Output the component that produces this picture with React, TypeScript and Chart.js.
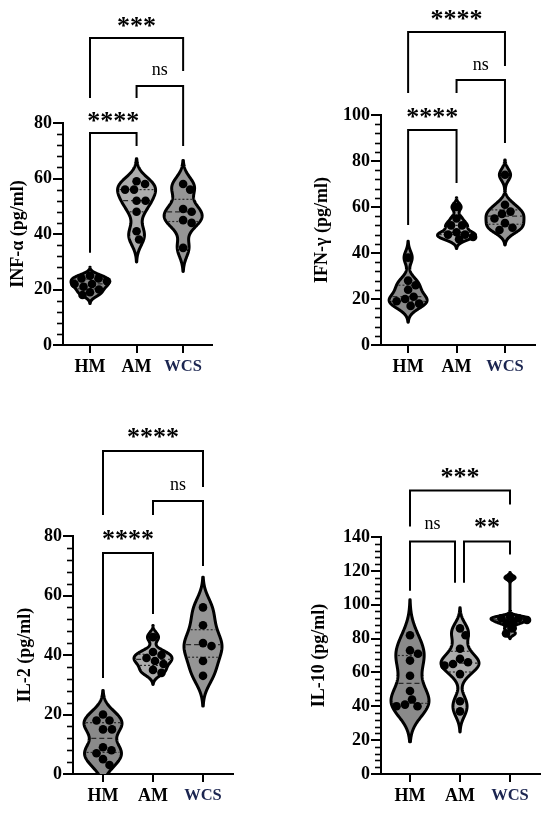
import React, { useEffect, useRef } from "react";
import { Chart, registerables } from "chart.js";

Chart.register(...registerables);

// ---------- data ----------
const categories = ["HM", "AM", "WCS"];
const groupFills = ["#8a8a8a", "#acacac", "#959595"];

// INF-α (pg/ml)
const infHM = [25, 24, 24, 23, 22, 22, 21, 20, 19, 18];
const infAM = [59, 58, 56, 56, 52, 52, 48, 41, 38];
const infWCS = [58, 56, 49, 48, 45, 44, 35];

// IFN-γ (pg/ml)
const ifnHM = [38, 28, 26, 24, 21, 20, 19, 18, 17];
const ifnAM = [60, 55, 52, 52, 49, 48, 48, 47, 46];
const ifnWCS = [74, 61, 58, 57, 55, 53, 51, 50];

// IL-2 (pg/ml)
const il2HM = [20, 18, 18, 15, 15, 9, 8, 7, 5, 3];
const il2AM = [46, 41, 40, 39, 38, 37, 35, 34];
const il2WCS = [56, 50, 44, 43, 38, 33];

// IL-10 (pg/ml)
const il10HM = [82, 73, 71, 67, 58, 49, 44, 41, 40, 40];
const il10AM = [86, 82, 74, 68, 66, 65, 64, 59, 43, 37];
const il10WCS = [116, 93, 92, 92, 91, 90, 89, 86, 83];

const yTitles = ["INF-α (pg/ml)", "IFN-γ (pg/ml)", "IL-2 (pg/ml)", "IL-10 (pg/ml)"];
const yMaxes = [80, 100, 80, 140];
const yMajorStep = 20;
const yMinorStep = 4;

// significance brackets (category indices, levels in data units)
type Bracket = {
  from: number; to: number; level: number;
  endFrom: number; endTo: number; label: string; labelAt: number;
};
const infBrackets: Bracket[] = [
  { from: 0, to: 2, level: 110.6, endFrom: 89, endTo: 98.7, label: "***", labelAt: 116.4 },
  { from: 1, to: 2, level: 93.3, endFrom: 89, endTo: 71.7, label: "ns", labelAt: 99 },
  { from: 0, to: 1, level: 76.4, endFrom: 33.2, endTo: 71.7, label: "****", labelAt: 82.2 },
];
const ifnBrackets: Bracket[] = [
  { from: 0, to: 2, level: 136.1, endFrom: 109.6, endTo: 121.3, label: "****", labelAt: 143.5 },
  { from: 1, to: 2, level: 115.2, endFrom: 109.6, endTo: 87.8, label: "ns", labelAt: 121.7 },
  { from: 0, to: 1, level: 93.5, endFrom: 52.2, endTo: 70.4, label: "****", labelAt: 100.9 },
];
const il2Brackets: Bracket[] = [
  { from: 0, to: 2, level: 108.6, endFrom: 87.1, endTo: 96.5, label: "****", labelAt: 114.6 },
  { from: 1, to: 2, level: 91.8, endFrom: 87.1, endTo: 69.9, label: "ns", labelAt: 97.1 },
  { from: 0, to: 1, level: 74.3, endFrom: 32.3, endTo: 53.8, label: "****", labelAt: 80.3 },
];
const il10Brackets: Bracket[] = [
  { from: 0, to: 2, level: 167.5, endFrom: 146.2, endTo: 159.2, label: "***", labelAt: 178.1 },
  { from: 0, to: 0.9, level: 137.3, endFrom: 108.3, endTo: 113, label: "ns", labelAt: 147.3 },
  { from: 1.08, to: 2, level: 137.3, endFrom: 113, endTo: 129.6, label: "**", labelAt: 148.5 },
];

// ---------- layout ----------
type Panel = {
  groups: number[][]; title: string; yMax: number; brackets: Bracket[];
  left: number; top: number; width: number; height: number;
  axisW: number; padTop: number; padRight: number; xH: number;
  xMin: number; xMax: number; titlePad: number;
};

const panels: Panel[] = [
  { groups: [infHM, infAM, infWCS], title: yTitles[0], yMax: yMaxes[0], brackets: infBrackets,
    left: 0, top: 0, width: 275, height: 400, axisW: 63, padTop: 123, padRight: 63, xH: 55,
    xMin: -0.58, xMax: 2.62, titlePad: 8 },
  { groups: [ifnHM, ifnAM, ifnWCS], title: yTitles[1], yMax: yMaxes[1], brackets: ifnBrackets,
    left: 275, top: 0, width: 275, height: 400, axisW: 106, padTop: 115, padRight: 15, xH: 55,
    xMin: -0.56, xMax: 2.62, titlePad: 37 },
  { groups: [il2HM, il2AM, il2WCS], title: yTitles[2], yMax: yMaxes[2], brackets: il2Brackets,
    left: 0, top: 400, width: 275, height: 415, axisW: 73, padTop: 136, padRight: 42, xH: 41,
    xMin: -0.6, xMax: 2.6, titlePad: 15 },
  { groups: [il10HM, il10AM, il10WCS], title: yTitles[3], yMax: yMaxes[3], brackets: il10Brackets,
    left: 275, top: 400, width: 275, height: 415, axisW: 106, padTop: 137, padRight: 10, xH: 41,
    xMin: -0.58, xMax: 2.6, titlePad: 34 },
];

const SERIF = '"Liberation Serif", "Times New Roman", serif';
const HALF_WIDTH = 19;
const DOT_R = 4.3;
const BW_FACTOR = 0.9;
const TAIL = 2.6;

// ---------- helpers ----------
function quantile(sorted: number[], p: number) {
  const pos = (sorted.length - 1) * p;
  const lo = Math.floor(pos);
  const hi = Math.ceil(pos);
  return sorted[lo] + (sorted[hi] - sorted[lo]) * (pos - lo);
}
function silverman(vals: number[]) {
  const n = vals.length;
  const mean = vals.reduce((a, b) => a + b, 0) / n;
  const sd = Math.sqrt(vals.reduce((a, b) => a + (b - mean) ** 2, 0) / (n - 1));
  const s = [...vals].sort((a, b) => a - b);
  const iqr = quantile(s, 0.75) - quantile(s, 0.25);
  const a = iqr > 0 ? Math.min(sd, iqr / 1.34) : sd;
  return 0.9 * a * Math.pow(n, -0.2);
}
function density(vals: number[], h: number, v: number) {
  let d = 0;
  for (const x of vals) d += Math.exp(-0.5 * ((v - x) / h) ** 2);
  return d;
}
function profile(vals: number[]) {
  const h = silverman(vals) * BW_FACTOR;
  const lo = Math.min(...vals) - TAIL * h;
  const hi = Math.max(...vals) + TAIL * h;
  const N = 200;
  const pts: { v: number; d: number }[] = [];
  let maxD = 0;
  for (let k = 0; k <= N; k++) {
    const v = lo + ((hi - lo) * k) / N;
    const d = density(vals, h, v);
    if (d > maxD) maxD = d;
    pts.push({ v, d });
  }
  const hw = (v: number) => (HALF_WIDTH * density(vals, h, v)) / maxD;
  return { h, pts, maxD, hw };
}

function makePlugin(panel: Panel) {
  return {
    id: "violinPanel",
    afterDatasetsUpdate(chart: any) {
      const xs = chart.scales.x;
      chart.data.datasets.forEach((_ds: any, di: number) => {
        const vals = panel.groups[di];
        const prof = profile(vals);
        const meta = chart.getDatasetMeta(di);
        const cx = xs.getPixelForValue(di);
        const order = vals.map((_v, i) => i).sort((a, b) => meta.data[a].y - meta.data[b].y);
        const placed: { x: number; y: number }[] = [];
        const D = 2 * DOT_R;
        for (const i of order) {
          const el = meta.data[i];
          const maxOff = Math.max(0, Math.min(prof.hw(vals[i]) - 1, HALF_WIDTH - 2));
          let best = 0, bestScore = -Infinity, found = false;
          for (let k = 0; k < 200; k++) {
            const cand = k === 0 ? 0 : (k % 2 ? 1 : -1) * Math.ceil(k / 2) * 0.5;
            if (Math.abs(cand) > maxOff) break;
            let minD = Infinity;
            for (const p of placed) {
              const dd = Math.hypot(p.x - (cx + cand), p.y - el.y);
              if (dd < minD) minD = dd;
            }
            if (minD >= D) { best = cand; found = true; break; }
            if (minD > bestScore + 0.01) { bestScore = minD; best = cand; }
          }
          if (!found && placed.length === 0) best = 0;
          el.x = cx + best;
          placed.push({ x: el.x, y: el.y });
        }
      });
    },
    beforeDatasetsDraw(chart: any) {
      const { ctx, chartArea: a, scales } = chart;
      const xs = scales.x, ys = scales.y;
      ctx.save();
      ctx.beginPath();
      ctx.rect(a.left + 1, a.top - 60, a.right - a.left, a.bottom - a.top + 60);
      ctx.clip();
      panel.groups.forEach((vals, gi) => {
        const prof = profile(vals);
        const cx = xs.getPixelForValue(gi);
        const w = (d: number) => (HALF_WIDTH * d) / prof.maxD;
        const pts = prof.pts;
        ctx.beginPath();
        pts.forEach((p, k) => {
          const X = cx + w(p.d), Y = ys.getPixelForValue(p.v);
          if (k === 0) ctx.moveTo(X, Y); else ctx.lineTo(X, Y);
        });
        for (let k = pts.length - 1; k >= 0; k--) {
          ctx.lineTo(cx - w(pts[k].d), ys.getPixelForValue(pts[k].v));
        }
        ctx.closePath();
        ctx.fillStyle = groupFills[gi];
        ctx.fill();
        ctx.lineWidth = 3;
        ctx.lineJoin = "round";
        ctx.strokeStyle = "#000";
        ctx.stroke();
        // median & quartiles
        const s = [...vals].sort((p, q) => p - q);
        [0.25, 0.5, 0.75].forEach((p) => {
          const q = quantile(s, p);
          const hw = prof.hw(q) - 2;
          const Y = ys.getPixelForValue(q);
          ctx.beginPath();
          ctx.setLineDash(p === 0.5 ? [5, 3] : [2, 2]);
          ctx.lineWidth = 1.2;
          ctx.strokeStyle = "#2a2a2a";
          ctx.moveTo(cx - hw, Y);
          ctx.lineTo(cx + hw, Y);
          ctx.stroke();
        });
        ctx.setLineDash([]);
      });
      ctx.restore();
    },
    afterDraw(chart: any) {
      const { ctx, scales } = chart;
      const xs = scales.x, ys = scales.y;
      ctx.save();
      // minor ticks
      const x0 = ys.right;
      ctx.strokeStyle = "#000";
      ctx.lineWidth = 1.6;
      for (let v = 0; v <= panel.yMax + 1e-9; v += yMinorStep) {
        if (Math.abs(v % yMajorStep) < 1e-9) continue;
        const Y = Math.round(ys.getPixelForValue(v)) + 0.5;
        ctx.beginPath();
        ctx.moveTo(x0 - 6, Y);
        ctx.lineTo(x0, Y);
        ctx.stroke();
      }
      // brackets
      ctx.lineWidth = 2;
      ctx.lineCap = "butt";
      ctx.lineJoin = "miter";
      panel.brackets.forEach((b) => {
        const X1 = xs.getPixelForValue(b.from);
        const X2 = xs.getPixelForValue(b.to);
        const Yb = ys.getPixelForValue(b.level);
        ctx.beginPath();
        ctx.moveTo(X1, ys.getPixelForValue(b.endFrom));
        ctx.lineTo(X1, Yb);
        ctx.lineTo(X2, Yb);
        ctx.lineTo(X2, ys.getPixelForValue(b.endTo));
        ctx.stroke();
        const isNs = b.label === "ns";
        ctx.font = isNs ? `18px ${SERIF}` : `bold 26px ${SERIF}`;
        ctx.fillStyle = "#000";
        ctx.textAlign = "center";
        ctx.textBaseline = "alphabetic";
        const m = ctx.measureText(b.label);
        const yc = ys.getPixelForValue(b.labelAt);
        const base = yc + (m.actualBoundingBoxAscent - m.actualBoundingBoxDescent) / 2;
        ctx.fillText(b.label, (X1 + X2) / 2, base);
      });
      ctx.restore();
    },
  };
}

function ViolinPanel({ panel }: { panel: Panel }) {
  const ref = useRef<HTMLCanvasElement | null>(null);
  useEffect(() => {
    if (!ref.current) return;
    const chart = new Chart(ref.current, {
      type: "scatter",
      data: {
        datasets: panel.groups.map((vals, gi) => ({
          label: categories[gi],
          data: vals.map((v) => ({ x: gi, y: v })),
          pointRadius: DOT_R,
          pointHoverRadius: DOT_R,
          pointBackgroundColor: "#000",
          pointBorderWidth: 0,
          borderColor: "#000",
        })),
      },
      options: {
        animation: false,
        responsive: false,
        maintainAspectRatio: false,
        devicePixelRatio: 1,
        layout: { padding: { left: 0, top: panel.padTop, right: panel.padRight, bottom: 0 } },
        plugins: { legend: { display: false }, tooltip: { enabled: false } },
        events: [],
        scales: {
          x: {
            type: "linear",
            min: panel.xMin,
            max: panel.xMax,
            afterBuildTicks: (s: any) => {
              s.ticks = [0, 1, 2].map((v) => ({ value: v }));
            },
            afterFit: (s: any) => {
              s.height = panel.xH;
            },
            grid: { drawOnChartArea: false, drawTicks: true, tickLength: 8, lineWidth: 2, color: "#000" },
            border: { display: true, color: "#000", width: 2 },
            ticks: {
              autoSkip: false,
              maxRotation: 0,
              padding: 4,
              callback: (v: any) => categories[Number(v)] ?? "",
              color: (c: any) => (c.index === 2 ? "#1b2550" : "#000"),
              font: (c: any) =>
                c.index === 2
                  ? { family: SERIF, size: 16.5, weight: "bold" }
                  : { family: SERIF, size: 18, weight: "bold" },
            },
          },
          y: {
            type: "linear",
            min: 0,
            max: panel.yMax,
            ticks: {
              stepSize: yMajorStep,
              padding: 1,
              color: "#000",
              font: { family: SERIF, size: 18, weight: "bold" },
            },
            afterFit: (s: any) => {
              s.width = panel.axisW;
            },
            grid: { drawOnChartArea: false, drawTicks: true, tickLength: 10, lineWidth: 2, color: "#000" },
            border: { display: true, color: "#000", width: 2 },
            title: {
              display: true,
              text: panel.title,
              color: "#000",
              font: { family: SERIF, size: 18, weight: "bold" },
              padding: { top: panel.titlePad, bottom: 0 },
            },
          },
        },
      },
      plugins: [makePlugin(panel)],
    } as any);
    return () => chart.destroy();
  }, [panel]);
  return (
    <canvas
      ref={ref}
      width={panel.width}
      height={panel.height}
      style={{
        position: "absolute",
        left: panel.left,
        top: panel.top,
        width: panel.width,
        height: panel.height,
      }}
    />
  );
}

export default function App() {
  return (
    <div
      style={{
        position: "absolute",
        left: 0,
        top: 0,
        width: 550,
        height: 815,
        background: "#fff",
        overflow: "hidden",
      }}
    >
      {panels.map((p, i) => (
        <ViolinPanel key={i} panel={p} />
      ))}
    </div>
  );
}
